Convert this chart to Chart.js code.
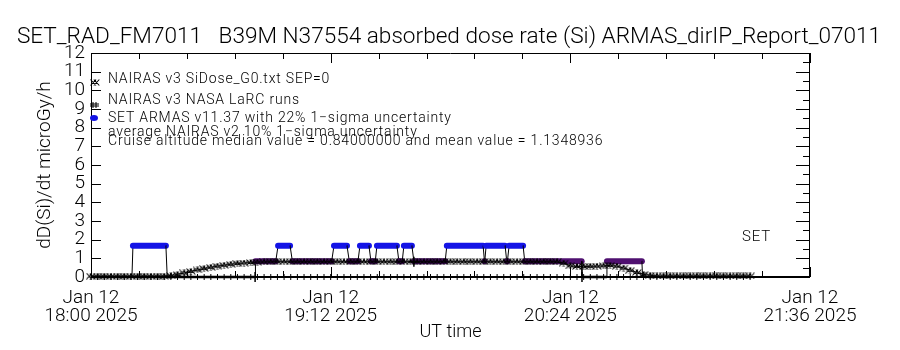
<!DOCTYPE html>
<html>
<head>
<meta charset="utf-8">
<script src="https://cdn.jsdelivr.net/npm/chart.js@4/dist/chart.umd.min.js"></script>
<style>
  html, body { margin: 0; padding: 0; background: #ffffff; }
  #wrap { width: 900px; height: 350px; }
</style>
</head>
<body>
<div id="wrap"><canvas id="c" width="900" height="350"></canvas></div>
<script>
// Time axis: minutes after 18:00 UT on Jan 12 2025
const xMajorMinutes = [0, 72, 144, 216];
const xTickDates = ['Jan 12', 'Jan 12', 'Jan 12', 'Jan 12'];
const xTickTimes = ['18:00 2025', '19:12 2025', '20:24 2025', '21:36 2025'];
const yTickValues = [0, 1, 2, 3, 4, 5, 6, 7, 8, 9, 10, 11, 12];

// NAIRAS v3 SiDose_G0 model dose rate (microGy/h), 2-minute samples
const nairasV3Minutes = [0, 2, 4, 6, 8, 10, 12, 14, 16, 18, 20, 22, 24, 26, 28, 30, 32, 34, 36, 38,
  40, 42, 44, 46, 48, 50, 52, 54, 56, 58, 60, 62, 64, 66, 68, 70, 72, 74, 76, 78,
  80, 82, 84, 86, 88, 90, 92, 94, 96, 98, 100, 102, 104, 106, 108, 110, 112, 114, 116, 118,
  120, 122, 124, 126, 128, 130, 132, 134, 136, 138, 140, 142, 144, 146, 148, 150, 152, 154, 156, 158,
  160, 162, 164, 166, 168, 170, 172, 174, 176, 178, 180, 182, 184, 186, 188, 190, 192, 194, 196, 198];
const nairasV3Dose = [0.05, 0.05, 0.05, 0.05, 0.05, 0.05, 0.05, 0.05, 0.05, 0.05, 0.05, 0.05, 0.08, 0.14, 0.22, 0.30, 0.38, 0.45, 0.52, 0.58,
  0.63, 0.68, 0.72, 0.75, 0.78, 0.80, 0.81, 0.82, 0.82, 0.82, 0.82, 0.82, 0.82, 0.82, 0.82, 0.82, 0.82, 0.82, 0.82, 0.82,
  0.82, 0.82, 0.82, 0.82, 0.82, 0.82, 0.82, 0.82, 0.82, 0.82, 0.82, 0.82, 0.82, 0.82, 0.82, 0.82, 0.82, 0.82, 0.82, 0.82,
  0.82, 0.82, 0.82, 0.82, 0.82, 0.82, 0.82, 0.82, 0.82, 0.82, 0.82, 0.74, 0.60, 0.56, 0.56, 0.57, 0.58, 0.60, 0.62, 0.58,
  0.48, 0.36, 0.24, 0.14, 0.09, 0.06, 0.06, 0.06, 0.06, 0.06, 0.06, 0.06, 0.06, 0.06, 0.06, 0.06, 0.06, 0.06, 0.06, 0.06];
// average NAIRAS v2 (no values along this flight)
const nairasV2Dose = [0, 0, 0, 0, 0, 0, 0, 0, 0, 0, 0, 0, 0, 0, 0, 0, 0, 0, 0, 0,
  0, 0, 0, 0, 0, 0, 0, 0, 0, 0, 0, 0, 0, 0, 0, 0, 0, 0, 0, 0,
  0, 0, 0, 0, 0, 0, 0, 0, 0, 0, 0, 0, 0, 0, 0, 0, 0, 0, 0, 0,
  0, 0, 0, 0, 0, 0, 0, 0, 0, 0, 0, 0, 0, 0, 0, 0, 0, 0, 0, 0,
  0, 0, 0, 0, 0, 0, 0, 0, 0, 0, 0, 0, 0, 0, 0, 0, 0, 0, 0, 0];

// SET ARMAS v11.37 dose rate (microGy/h) at level changes
const armasMinutes = [0, 12.3, 12.6, 22.5, 22.9, 49.3, 49.4, 55.5, 56.2, 59.8, 60.5, 72.3, 73.0, 76.9, 77.6, 80.2,
  80.8, 83.5, 84.1, 85.4, 85.9, 91.9, 92.5, 93.5, 94.0, 96.4, 97.0, 106.4, 106.9, 117.8, 118.2, 118.3,
  118.7, 124.4, 124.9, 125.1, 125.6, 129.8, 130.3, 147.4, 147.5, 154.9, 155.0, 165.5, 165.7, 197.0];
const armasDose = [0, 0, 1.68, 1.68, 0, 0, 0.84, 0.84, 1.68, 1.68, 0.84, 0.84, 1.68, 1.68, 0.84, 0.84,
  1.68, 1.68, 0.84, 0.84, 1.68, 1.68, 0.84, 0.84, 1.68, 1.68, 0.84, 0.84, 1.68, 1.68, 0.84, 0.84,
  1.68, 1.68, 0.84, 0.84, 1.68, 1.68, 0.84, 0.84, 0, 0, 0.84, 0.84, 0, 0];

// NAIRAS v3 NASA LaRC runs
const larcMinutes = [0, 49.3, 70, 97, 120, 147.5, 155];
const larcDose = [0, 0, null, 0.82, null, 0, 0];

const BLUE = '#1414e6';
const PURPLE = '#4f1070';
const FONT = 'Roboto, "Liberation Sans", sans-serif';
const W = '300 ';

const pts = (xs, ys) => xs.map((x, i) => ({ x: x, y: ys[i] }));

// Marker sprite: a pair of overlapping small X symbols
const xMark = document.createElement('canvas');
xMark.width = 10; xMark.height = 7;
(() => {
  const g = xMark.getContext('2d');
  g.strokeStyle = '#000';
  g.lineWidth = 1.1;
  g.beginPath();
  [0.5, 3.8].forEach(o => {
    g.moveTo(o, 0.5); g.lineTo(o + 5.5, 6.5);
    g.moveTo(o, 6.5); g.lineTo(o + 5.5, 0.5);
  });
  g.stroke();
})();

// Inward ticks, box, legend text and annotations
const framePlugin = {
  id: 'frame',
  afterDatasetsDraw(chart) {
    const { ctx, chartArea: a, scales: { x, y } } = chart;
    ctx.save();
    ctx.strokeStyle = '#000';
    ctx.lineWidth = 1;
    ctx.beginPath();
    ctx.rect(a.left + 0.5, a.top + 0.5, a.right - a.left - 1, a.bottom - a.top);
    ctx.stroke();
    ctx.beginPath();
    // x ticks: majors every 72 min, 5 subdivisions
    for (let m = 0; m <= 216.01; m += 14.4) {
      const px = Math.round(x.getPixelForValue(m)) + 0.5;
      const major = Math.abs(m / 72 - Math.round(m / 72)) < 1e-6;
      const len = major ? 10 : 6;
      ctx.moveTo(px, a.top); ctx.lineTo(px, a.top + len);
      ctx.moveTo(px, a.bottom); ctx.lineTo(px, a.bottom - len);
    }
    // y ticks on left, half-unit ticks on right
    yTickValues.forEach(v => {
      const py = Math.round(y.getPixelForValue(v)) + 0.5;
      ctx.moveTo(a.left, py); ctx.lineTo(a.left + 10, py);
    });
    for (let v = 0; v <= 12; v += 0.5) {
      const py = Math.round(y.getPixelForValue(v)) + 0.5;
      const len = Number.isInteger(v) ? 14 : 7;
      ctx.moveTo(a.right, py); ctx.lineTo(a.right - len, py);
    }
    ctx.stroke();
    ctx.lineWidth = 2;
    ctx.beginPath();
    ctx.moveTo(a.left, a.bottom); ctx.lineTo(a.right, a.bottom);
    ctx.stroke();

    // title
    ctx.fillStyle = '#000';
    ctx.font = W + '22.6px ' + FONT;
    ctx.textAlign = 'center';
    ctx.textBaseline = 'middle';
    ctx.fillText('SET_RAD_FM7011   B39M N37554 absorbed dose rate (Si) ARMAS_dirIP_Report_07011', 449, 37);

    // legend
    ctx.font = W + '14px ' + FONT;
    ctx.letterSpacing = '0.8px';
    ctx.textAlign = 'left';
    const lx = 108;
    ctx.fillText('NAIRAS v3 SiDose_G0.txt SEP=0', lx, 79);
    ctx.fillText('NAIRAS v3 NASA LaRC runs', lx, 100);
    ctx.fillText('SET ARMAS v11.37 with 22% 1\u2212sigma uncertainty', lx, 118);
    ctx.fillText('average NAIRAS v2 10% 1\u2212sigma uncertainty', lx, 132);
    ctx.fillText('Cruise altitude median value = 0.84000000 and mean value = 1.1348936', lx, 141);
    ctx.font = W + '15px ' + FONT;
    ctx.fillText('SET', 742, 237);
    ctx.letterSpacing = '0px';

    // legend symbols
    ctx.drawImage(xMark, 90, 79);
    ctx.lineWidth = 1;
    ctx.strokeStyle = '#000';
    ctx.beginPath();
    ctx.moveTo(93, 102); ctx.lineTo(93, 108);
    ctx.moveTo(96, 102); ctx.lineTo(96, 108);
    ctx.moveTo(90, 104); ctx.lineTo(99, 104);
    ctx.moveTo(90, 106); ctx.lineTo(99, 106);
    ctx.stroke();
    ctx.fillStyle = BLUE;
    ctx.beginPath();
    ctx.ellipse(94, 118, 4, 3, 0, 0, Math.PI * 2);
    ctx.fill();
    ctx.restore();
  }
};

new Chart(document.getElementById('c'), {
  type: 'line',
  data: {
    datasets: [
      {
        label: 'NAIRAS v3 SiDose_G0.txt SEP=0',
        data: pts(nairasV3Minutes, nairasV3Dose),
        borderColor: '#000',
        borderWidth: 1,
        pointStyle: xMark,
        pointRadius: 4,
        order: 0
      },
      {
        label: 'average NAIRAS v2 10% 1-sigma uncertainty',
        data: pts(nairasV3Minutes, nairasV2Dose),
        showLine: false,
        pointStyle: 'line',
        rotation: 90,
        pointRadius: 3,
        pointBorderWidth: 1,
        pointBorderColor: '#000',
        order: 1
      },
      {
        label: 'NAIRAS v3 NASA LaRC runs',
        data: pts(larcMinutes, larcDose),
        borderColor: '#000',
        borderWidth: 2.5,
        spanGaps: false,
        pointStyle: 'cross',
        pointRadius: ctx => (ctx.dataIndex === 1 || ctx.dataIndex === 3 || ctx.dataIndex === 5) ? 5 : 0,
        pointBorderWidth: 1.5,
        pointBorderColor: '#000',
        order: 1
      },
      {
        label: 'SET ARMAS v11.37 with 22% 1-sigma uncertainty',
        data: pts(armasMinutes, armasDose),
        borderColor: '#000',
        borderWidth: 1,
        borderCapStyle: 'round',
        pointRadius: 0,
        segment: {
          borderColor: c => {
            const a = c.p0.parsed.y, b = c.p1.parsed.y;
            if (a !== b || a === 0) return '#000';
            return a > 1 ? BLUE : PURPLE;
          },
          borderWidth: c => {
            const a = c.p0.parsed.y, b = c.p1.parsed.y;
            return (a === b && a > 0) ? 6 : 1;
          }
        },
        order: 3
      }
    ]
  },
  options: {
    responsive: false,
    animation: false,
    clip: false,
    layout: { padding: { top: 53, right: 90, left: 0, bottom: 0 } },
    plugins: {
      legend: { display: false },
      tooltip: { enabled: false }
    },
    scales: {
      x: {
        type: 'linear',
        min: 0,
        max: 216,
        afterBuildTicks: s => { s.ticks = xMajorMinutes.map(v => ({ value: v })); },
        ticks: {
          autoSkip: false,
          maxRotation: 0,
          padding: 12,
          color: '#000',
          font: { family: FONT, size: 19, weight: 300, lineHeight: 0.95 },
          callback: (v, i) => [xTickDates[i], xTickTimes[i]]
        },
        grid: { display: false, drawTicks: false },
        border: { display: false },
        title: {
          display: true,
          text: 'UT time',
          color: '#000',
          font: { family: FONT, size: 18, weight: 300 },
          padding: { top: 0, bottom: 7 }
        },
        afterFit: s => { s.height = 73; }
      },
      y: {
        min: 0,
        max: 12,
        afterBuildTicks: s => { s.ticks = yTickValues.map(v => ({ value: v })); },
        ticks: {
          autoSkip: false,
          padding: 6,
          color: '#000',
          font: { family: FONT, size: 19, weight: 300 },
          callback: v => String(v)
        },
        grid: { display: false, drawTicks: false },
        border: { display: false },
        title: {
          display: true,
          text: 'dD(Si)/dt microGy/h',
          color: '#000',
          font: { family: FONT, size: 19, weight: 300 },
          padding: { top: 34, bottom: 0 }
        },
        afterFit: s => { s.width = 91; }
      }
    }
  },
  plugins: [framePlugin]
});
</script>
</body>
</html>
